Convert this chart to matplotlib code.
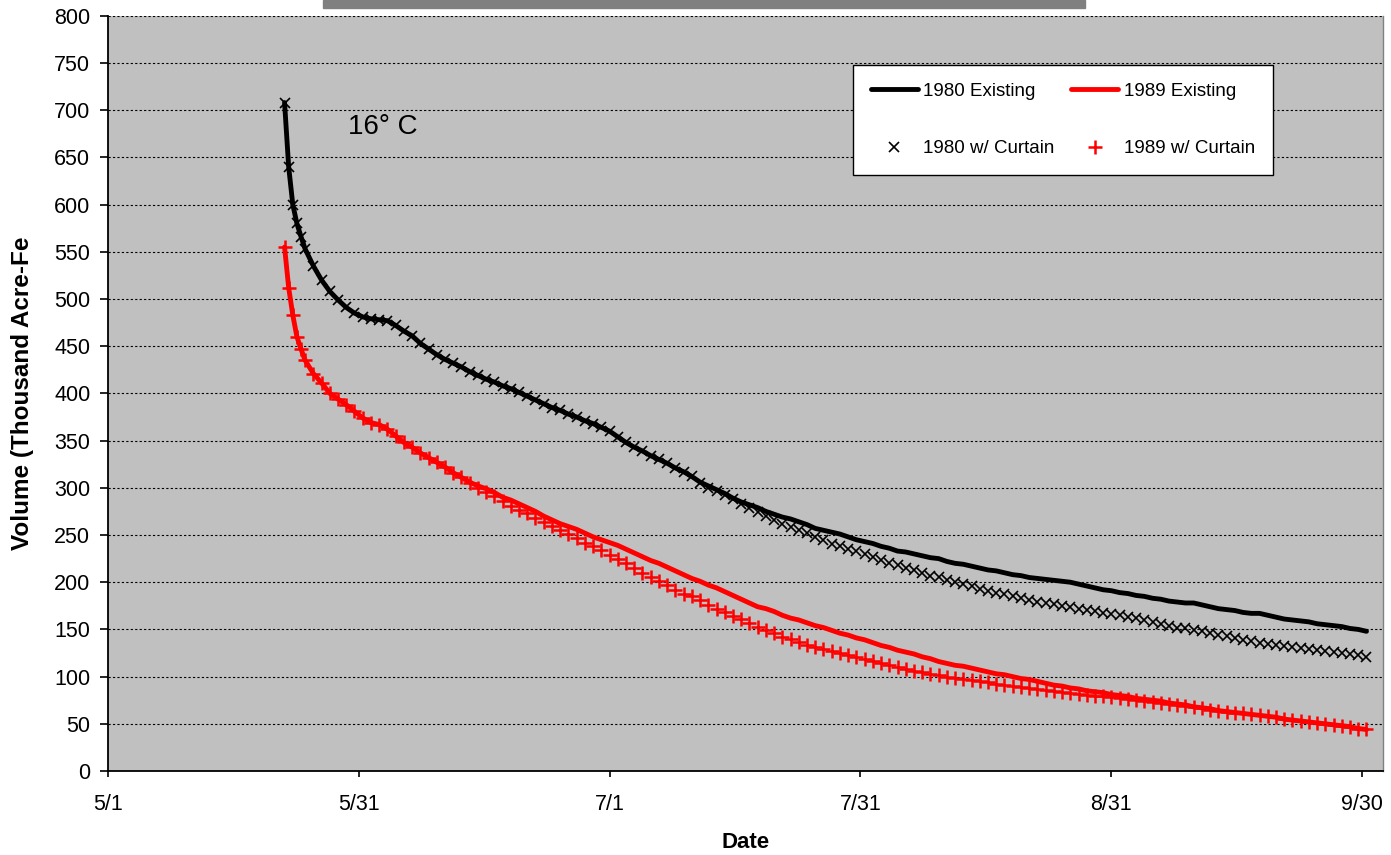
import numpy as np
import matplotlib
matplotlib.use('Agg')
import matplotlib.pyplot as plt
from matplotlib.patches import Rectangle

plt.rcParams['font.family'] = ['Liberation Sans', 'DejaVu Sans']

# dias desde el 5/1
days = [21.5, 22.0, 22.5, 23.0, 23.5] + list(range(24, 154))

vol_1980_existing = [
    708, 640, 600, 580, 566,
    553, 535, 520, 508, 499, 491, 485, 481, 479, 478,
    477, 472, 466, 461, 453, 447, 441, 436, 432, 428,
    423, 419, 415, 412, 408, 405, 401, 397, 393, 389,
    385, 382, 378, 375, 371, 368, 364, 360, 354, 348,
    343, 339, 334, 330, 326, 321, 317, 312, 306, 302,
    298, 294, 289, 285, 282, 279, 275, 272, 269, 267,
    264, 261, 257, 255, 253, 251, 248, 245, 243, 241,
    238, 236, 233, 232, 230, 228, 226, 225, 222, 220,
    219, 217, 215, 213, 212, 210, 208, 207, 205, 204,
    203, 202, 201, 200, 198, 196, 194, 192, 191, 189,
    188, 186, 185, 183, 182, 180, 179, 178, 178, 176,
    174, 172, 171, 170, 168, 167, 167, 165, 163, 161,
    160, 159, 158, 156, 155, 154, 153, 151, 150, 148]

vol_1980_curtain = [
    708, 640, 600, 580, 566,
    553, 535, 520, 508, 499, 491, 485, 481, 479, 478,
    477, 472, 466, 461, 453, 447, 441, 436, 432, 428,
    423, 419, 415, 412, 408, 405, 401, 397, 393, 389,
    385, 382, 378, 375, 371, 368, 364, 360, 354, 348,
    343, 339, 334, 330, 326, 321, 317, 312, 305, 300,
    297, 292, 288, 283, 279, 274, 270, 266, 262, 259,
    255, 252, 248, 245, 241, 238, 235, 233, 230, 227,
    223, 220, 218, 215, 213, 210, 207, 205, 202, 200,
    198, 196, 193, 191, 189, 187, 185, 183, 181, 179,
    178, 177, 175, 174, 172, 171, 169, 167, 166, 165,
    163, 162, 160, 158, 156, 154, 152, 151, 149, 148,
    146, 144, 143, 141, 139, 138, 136, 135, 134, 132,
    131, 130, 129, 128, 127, 126, 125, 124, 123, 121]

vol_1989_existing = [
    555, 512, 483, 460, 447,
    435, 421, 411, 400, 394, 388, 381, 374, 369, 367,
    362, 355, 348, 343, 337, 332, 327, 322, 316, 311,
    306, 302, 299, 295, 290, 287, 283, 279, 275, 270,
    266, 262, 259, 256, 252, 248, 245, 242, 239, 235,
    231, 227, 223, 220, 216, 212, 208, 204, 201, 197,
    194, 190, 186, 182, 178, 174, 172, 169, 165, 162,
    160, 157, 154, 152, 149, 146, 144, 141, 139, 136,
    133, 131, 128, 126, 124, 121, 119, 116, 114, 112,
    111, 109, 107, 105, 103, 102, 100, 98, 97, 95,
    93, 91, 90, 88, 87, 85, 84, 83, 81, 80,
    79, 77, 76, 75, 74, 72, 71, 70, 68, 67,
    66, 64, 63, 62, 61, 60, 59, 58, 57, 55,
    54, 53, 52, 51, 50, 49, 48, 47, 45, 44]

vol_1989_curtain = [
    555, 512, 483, 460, 447,
    435, 421, 411, 400, 394, 388, 381, 374, 369, 367,
    362, 355, 348, 343, 337, 332, 327, 322, 316, 311,
    305, 300, 296, 291, 286, 281, 277, 273, 268, 264,
    260, 255, 251, 247, 242, 238, 234, 229, 225, 220,
    215, 210, 206, 201, 197, 192, 188, 185, 181, 176,
    172, 168, 164, 161, 157, 153, 149, 146, 142, 140,
    137, 134, 131, 129, 127, 125, 123, 121, 119, 117,
    114, 112, 110, 108, 106, 105, 103, 102, 100, 99,
    98, 96, 95, 94, 92, 91, 90, 89, 88, 87,
    86, 85, 84, 83, 82, 81, 80, 79, 78, 77,
    76, 75, 74, 73, 72, 71, 70, 69, 68, 67,
    65, 64, 63, 62, 61, 60, 59, 58, 57, 55,
    54, 53, 52, 51, 50, 49, 48, 47, 45, 44]

tick_days = [0, 30.5, 61, 91.5, 122, 152.5]
tick_labels = ['5/1', '5/31', '7/1', '7/31', '8/31', '9/30']

fig = plt.figure(figsize=(13.91, 8.55), dpi=100)
ax = fig.add_axes([0.0774, 0.0982, 0.9168, 0.8834])
ax.set_facecolor('#C0C0C0')

# barra gris de arriba (titulo cortado)
fig.patches.append(Rectangle((323 / 1391, 1 - 8 / 855), (1085 - 323) / 1391, 8 / 855,
                             transform=fig.transFigure, color='#808080'))

l1, = ax.plot(days, vol_1980_existing, color='black', lw=3.5, label='1980 Existing',
              solid_capstyle='round', zorder=3)
l2, = ax.plot(days, vol_1989_existing, color='red', lw=3.5, label='1989 Existing',
              solid_capstyle='round', zorder=3)
l3, = ax.plot(days, vol_1980_curtain, ls='none', marker='x', ms=6.5, mew=1.2,
              color='black', label='1980 w/ Curtain', zorder=4)
l4, = ax.plot(days, vol_1989_curtain, ls='none', marker='+', ms=10, mew=1.8,
              color='red', label='1989 w/ Curtain', zorder=4)

ax.set_xlim(0, 155)
ax.set_ylim(0, 800)
ax.set_yticks(np.arange(0, 801, 50))
ax.set_xticks(tick_days)
ax.set_xticklabels(tick_labels)
ax.yaxis.grid(True, color='black', linestyle=(0, (2, 2)), linewidth=0.8)
ax.set_axisbelow(True)

ax.spines['top'].set_visible(False)
ax.spines['right'].set_color('#808080')
ax.spines['right'].set_linewidth(1)
ax.spines['left'].set_linewidth(1.3)
ax.spines['bottom'].set_linewidth(1.3)

ax.tick_params(axis='y', direction='out', length=5.5, width=1.2, labelsize=15.5, pad=7)
ax.tick_params(axis='x', direction='out', length=4.5, width=1.2, labelsize=15.5, pad=12)

ax.set_xlabel('Date', fontweight='bold', fontsize=16, labelpad=12)
ax.set_ylabel('Volume (Thousand Acre-Fe', fontweight='bold', fontsize=17.5)
ax.yaxis.set_label_coords(-0.058, 0.5)

ax.text(29.2, 675, '16° C', fontsize=20)

leg = ax.legend(handles=[l1, l3, l2, l4], ncol=2, loc='upper left',
                bbox_to_anchor=(0.5844, 0.9347), borderaxespad=0, fontsize=13.5,
                handlelength=2.5, handletextpad=0.3, columnspacing=0.9,
                labelspacing=2.15, borderpad=0.95, numpoints=1,
                fancybox=False, framealpha=1, edgecolor='black')
leg.get_frame().set_linewidth(1.0)

fig.savefig('out.png', dpi=100)
